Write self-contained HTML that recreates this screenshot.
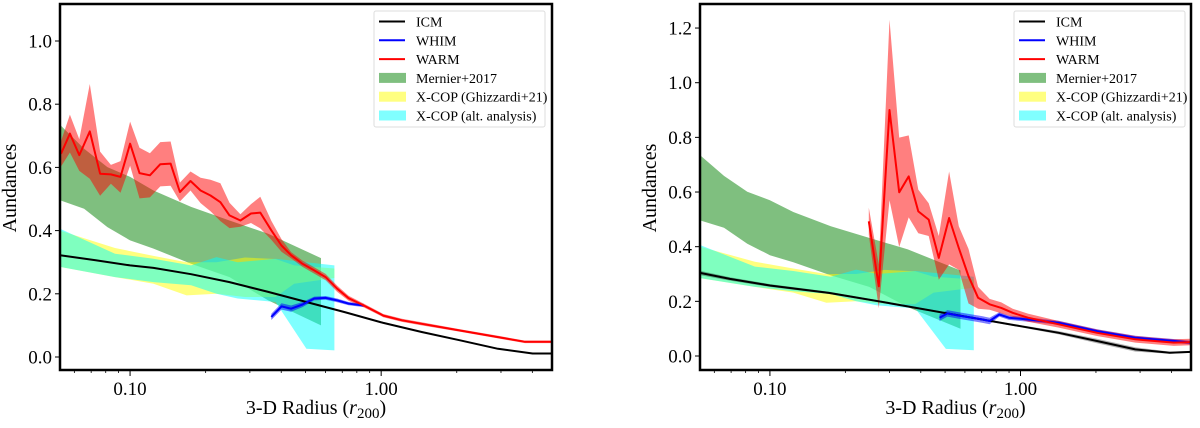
<!DOCTYPE html>
<html><head><meta charset="utf-8"><style>
body{margin:0;background:#fff;width:1200px;height:423px;overflow:hidden}
svg text, svg tspan{font-family:"Liberation Serif","DejaVu Serif",serif;fill:#000}
</style></head><body>
<svg id="fig" width="1200" height="423" viewBox="0 0 1200 423" xmlns="http://www.w3.org/2000/svg" font-family="Liberation Serif, DejaVu Serif, serif"></svg>
<script>
// ---- shared observational bands ----
const mernierX=[0.0526,0.0656,0.0812,0.1,0.124,0.175,0.249,0.355,0.576];
const mernierHi=[0.735,0.659,0.601,0.570,0.527,0.475,0.432,0.390,0.313];
const mernierLo=[0.496,0.469,0.411,0.369,0.343,0.295,0.253,0.179,0.100];
const ghizX=[0.0526,0.0871,0.124,0.168,0.221,0.287,0.380,0.45,0.651];
const ghizHi=[0.40,0.345,0.32,0.30,0.30,0.315,0.31,0.29,0.28];
const ghizLo=[0.285,0.253,0.232,0.195,0.20,0.19,0.19,0.232,0.25];
const altX=[0.0526,0.0871,0.124,0.175,0.221,0.268,0.380,0.504,0.651];
const altHi=[0.406,0.327,0.311,0.29,0.316,0.30,0.311,0.30,0.29];
const altLo=[0.285,0.253,0.237,0.227,0.20,0.185,0.174,0.026,0.021];
// ---- left panel ----
const icmLX=[0.0526,0.073,0.100,0.124,0.175,0.249,0.355,0.504,0.716,1.02,1.45,2.06,2.92,4.01,4.79];
const icmLY=[0.322,0.306,0.290,0.282,0.262,0.237,0.206,0.174,0.142,0.108,0.079,0.053,0.026,0.011,0.011];
const warmLX=[0.0531,0.0576,0.0628,0.0691,0.0760,0.0839,0.0916,0.100,0.109,0.120,0.132,0.145,0.158,0.174,0.191,0.209,0.229,0.249,0.275,0.303,0.330,0.365,0.401,0.438,0.486,0.541,0.601,0.668,0.742,0.853,1.02,1.21,1.45,2.06,2.92,3.74,4.79];
const warmLY=[0.643,0.707,0.639,0.714,0.580,0.578,0.570,0.675,0.582,0.575,0.610,0.612,0.522,0.557,0.527,0.511,0.490,0.448,0.432,0.454,0.457,0.401,0.353,0.322,0.295,0.274,0.253,0.216,0.186,0.163,0.131,0.116,0.105,0.084,0.063,0.048,0.048];
const warmLE=[0.04,0.06,0.05,0.15,0.07,0.03,0.05,0.07,0.08,0.07,0.07,0.07,0.03,0.03,0.04,0.05,0.06,0.04,0.02,0.03,0.05,0.03,0.02,0.01,0.01,0.01,0.01,0.01,0.008,0.006,0.005,0.005,0.005,0.004,0.004,0.004,0.004];
const whimLX=[0.365,0.401,0.438,0.486,0.541,0.601,0.668,0.742,0.853];
const whimLY=[0.127,0.160,0.153,0.166,0.185,0.187,0.179,0.169,0.163];
const whimLE=[0.01,0.01,0.01,0.008,0.006,0.006,0.006,0.005,0.005];
const yTicksL=[0.0,0.2,0.4,0.6,0.8,1.0];
// ---- right panel ----
const icmRX=[0.0526,0.0692,0.1,0.172,0.272,0.495,1.0,1.42,2.02,2.87,3.94,4.79];
const icmRY=[0.304,0.282,0.258,0.231,0.200,0.158,0.109,0.085,0.055,0.024,0.012,0.015];
const icmRE=[0.008,0.006,0.005,0.004,0.004,0.004,0.004,0.006,0.008,0.008,0.004,0.003];
const warmRX=[0.248,0.272,0.300,0.328,0.358,0.391,0.430,0.472,0.519,0.567,0.620,0.677,0.753,0.838,0.931,1.07,1.42,2.02,2.87,3.43,4.09,4.79];
const warmRY=[0.493,0.255,0.900,0.599,0.657,0.529,0.499,0.359,0.505,0.395,0.292,0.213,0.189,0.176,0.158,0.140,0.116,0.085,0.061,0.055,0.049,0.051];
const warmRE=[0.05,0.08,0.33,0.2,0.15,0.08,0.06,0.08,0.17,0.08,0.1,0.04,0.02,0.02,0.015,0.015,0.012,0.012,0.012,0.012,0.012,0.012];
const whimRX=[0.475,0.511,0.567,0.702,0.753,0.823,0.899,1.0,1.42,2.02,2.87,4.13,4.79];
const whimRY=[0.140,0.156,0.148,0.134,0.128,0.152,0.140,0.136,0.122,0.091,0.067,0.055,0.049];
const whimRE=[0.012,0.012,0.012,0.012,0.012,0.008,0.008,0.008,0.007,0.007,0.007,0.007,0.007];
const yTicksR=[0.0,0.2,0.4,0.6,0.8,1.0,1.2];
const xMajor=[0.1,1];
const xMajorLabels=["0.10","1.00"];
const xMinor=[0.06,0.07,0.08,0.09,0.2,0.3,0.4,0.5,0.6,0.7,0.8,0.9,2,3,4];
const legendLabels=["ICM","WHIM","WARM","Mernier+2017","X-COP (Ghizzardi+21)","X-COP (alt. analysis)"];

const NS="http://www.w3.org/2000/svg";
const FF='"Liberation Serif","DejaVu Serif",serif';
const fig=document.getElementById('fig');
function el(tag,attrs,parent){const e=document.createElementNS(NS,tag);for(const k in attrs)e.setAttribute(k,attrs[k]);(parent||fig).appendChild(e);return e;}

function panel(p){
  const g=el('g',{});
  
  
  const lx0=Math.log10(0.0526),lx1=Math.log10(4.79);
  const sx=v=>p.x0+(Math.log10(v)-lx0)/(lx1-lx0)*(p.x1-p.x0);
  const sy=v=>p.yZero-v*p.yUnit;
  const clip='clip-'+p.name;
  const cp=el('clipPath',{id:clip},g);el('rect',{x:p.x0,y:p.y0,width:p.x1-p.x0,height:p.y1-p.y0},cp);
  const plot=el('g',{'clip-path':'url(#'+clip+')'},g);
  function band(xs,hi,lo,fill,op,name){
    let d='M'+xs.map((x,i)=>sx(x).toFixed(1)+','+sy(hi[i]).toFixed(1)).join('L');
    for(let i=xs.length-1;i>=0;i--)d+='L'+sx(xs[i]).toFixed(1)+','+sy(lo[i]).toFixed(1);
    const e=el('path',{d:d+'Z',fill:fill,'fill-opacity':op,stroke:'none'},plot);
    
    
  }
  function line(xs,ys,col,name){
    const e=el('path',{d:'M'+xs.map((x,i)=>sx(x).toFixed(1)+','+sy(ys[i]).toFixed(1)).join('L'),fill:'none',stroke:col,'stroke-width':2,'stroke-linejoin':'round'},plot);
    
    
  }
  const up=(ys,es)=>ys.map((y,i)=>y+es[i]), dn=(ys,es)=>ys.map((y,i)=>y-es[i]);
  band(mernierX,mernierHi,mernierLo,'#008000',0.5,'mernier-band');
  band(ghizX,ghizHi,ghizLo,'#ffff00',0.5,'xcop-ghizzardi-band');
  band(altX,altHi,altLo,'#00ffff',0.5,'xcop-alt-band');
  if(p.icmE)band(p.icmX,up(p.icmY,p.icmE),dn(p.icmY,p.icmE),'#000',0.3,'icm-band');
  band(p.whimX,up(p.whimY,p.whimE),dn(p.whimY,p.whimE),'#0000ff',0.5,'whim-band');
  band(p.warmX,up(p.warmY,p.warmE),dn(p.warmY,p.warmE),'#ff0000',0.5,'warm-band');
  line(p.icmX,p.icmY,'#000','icm-line');
  line(p.whimX,p.whimY,'#0000ff','whim-line');
  line(p.warmX,p.warmY,'#ff0000','warm-line');
  const fr=el('rect',{x:p.x0,y:p.y0,width:p.x1-p.x0,height:p.y1-p.y0,fill:'none',stroke:'#000','stroke-width':2.5},g);
  
  
  p.yTicks.forEach(t=>{
    const y=sy(t);
    el('line',{x1:p.x0-5,x2:p.x0,y1:y,y2:y,stroke:'#000','stroke-width':1},g);
    const tx=el('text',{x:p.x0-8,y:y+6.5,'text-anchor':'end','font-size':19,'font-family':FF},g);
    tx.textContent=t.toFixed(1);
    
    
  });
  xMinor.forEach(t=>{const x=sx(t);el('line',{x1:x,x2:x,y1:p.y1,y2:p.y1+3,stroke:'#000','stroke-width':0.8},g);});
  xMajor.forEach((t,i)=>{
    const x=sx(t);
    el('line',{x1:x,x2:x,y1:p.y1,y2:p.y1+6,stroke:'#000','stroke-width':1},g);
    const tx=el('text',{x:x,y:p.y1+25,'text-anchor':'middle','font-size':19,'font-family':FF},g);
    tx.textContent=xMajorLabels[i];
    
    
  });
  const xl=el('text',{x:(p.x0+p.x1)/2+10,y:414,'text-anchor':'middle','font-size':20,'font-family':FF},g);
  xl.innerHTML='3-D Radius (<tspan font-style="italic">r</tspan><tspan font-size="15" dy="4">200</tspan><tspan dy="-4">)</tspan>';
  
  
  const yl=el('text',{x:0,y:0,'text-anchor':'middle','font-size':20,'font-family':FF,transform:'translate('+p.ylx+',188) rotate(-90)'},g);
  yl.textContent='Aundances';
  
  
  const lg=el('g',{},g);
  
  
  el('rect',{x:p.lgx,y:11,width:171,height:116,fill:'#fff','fill-opacity':0.8,stroke:'#ddd','stroke-width':1,rx:2},lg);
  const sw=[['line','#000'],['line','#0000ff'],['line','#ff0000'],['rect','#7fbf7f'],['rect','#ffff80'],['rect','#80ffff']];
  legendLabels.forEach((lab,i)=>{
    const y=21.5+i*18.8;
    if(sw[i][0]==='line')el('line',{x1:p.lgx+5,x2:p.lgx+31,y1:y,y2:y,stroke:sw[i][1],'stroke-width':2},lg);
    else el('rect',{x:p.lgx+5,y:y-5,width:27,height:10,fill:sw[i][1]},lg);
    const t=el('text',{x:p.lgx+42,y:y+5,'font-size':14,'font-family':FF},lg);
    t.textContent=lab;
    
    
  });
}
panel({name:'left-panel',x0:60,x1:552,y0:4,y1:370,yZero:357,yUnit:316,yTicks:yTicksL,
  icmX:icmLX,icmY:icmLY,icmE:null,warmX:warmLX,warmY:warmLY,warmE:warmLE,whimX:whimLX,whimY:whimLY,whimE:whimLE,ylx:16,lgx:374});
panel({name:'right-panel',x0:700,x1:1191,y0:4,y1:370,yZero:356,yUnit:273.3,yTicks:yTicksR,
  icmX:icmRX,icmY:icmRY,icmE:icmRE,warmX:warmRX,warmY:warmRY,warmE:warmRE,whimX:whimRX,whimY:whimRY,whimE:whimRE,ylx:656,lgx:1014});
</script>
</body></html>
